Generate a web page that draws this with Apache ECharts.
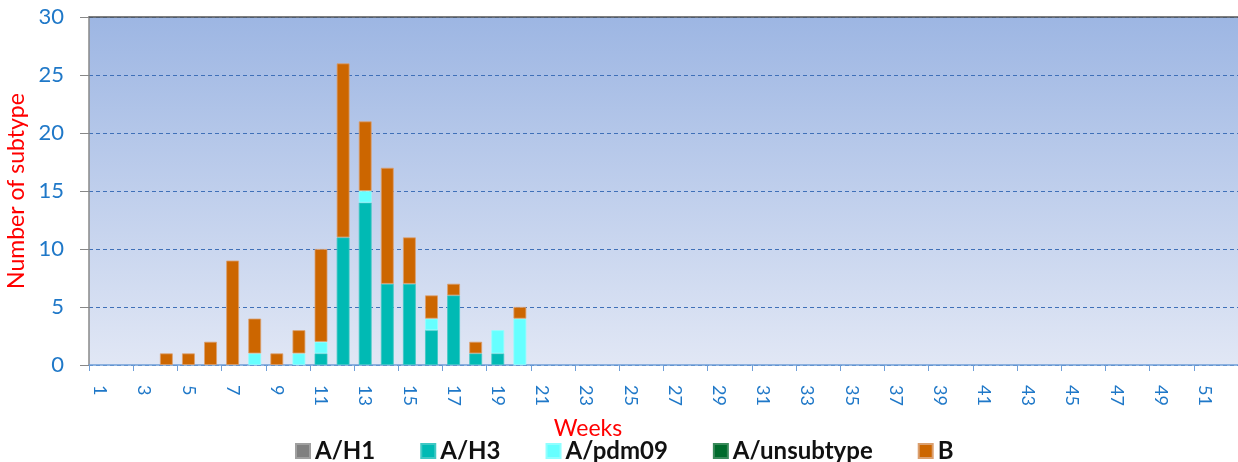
<!DOCTYPE html>
<html><head><meta charset="utf-8">
<script src="https://cdn.jsdelivr.net/npm/echarts@6/dist/echarts.min.js"></script>
<style>html,body{margin:0;padding:0;background:#fff}#c{width:1238px;height:462px}</style>
</head><body><div id="c"></div>
<script>
const weeks = Array.from({length: 52}, (_, i) => String(i + 1));
const seriesNames = ['A/H1', 'A/H3', 'A/pdm09', 'A/unsubtype', 'B'];
// values per week 1..52
const aH1 =        [0,0,0,0,0,0,0,0,0,0, 0, 0, 0,0,0,0,0,0,0,0, 0,0,0,0,0,0,0,0,0,0,0,0,0,0,0,0,0,0,0,0,0,0,0,0,0,0,0,0,0,0,0,0];
const aH3 =        [0,0,0,0,0,0,0,0,0,0, 1,11,14,7,7,3,6,1,1,0, 0,0,0,0,0,0,0,0,0,0,0,0,0,0,0,0,0,0,0,0,0,0,0,0,0,0,0,0,0,0,0,0];
const aPdm09 =     [0,0,0,0,0,0,0,1,0,1, 1, 0, 1,0,0,1,0,0,2,4, 0,0,0,0,0,0,0,0,0,0,0,0,0,0,0,0,0,0,0,0,0,0,0,0,0,0,0,0,0,0,0,0];
const aUnsub =     [0,0,0,0,0,0,0,0,0,0, 0, 0, 0,0,0,0,0,0,0,0, 0,0,0,0,0,0,0,0,0,0,0,0,0,0,0,0,0,0,0,0,0,0,0,0,0,0,0,0,0,0,0,0];
const bVals =      [0,0,0,1,1,2,9,3,1,2, 8,15, 6,10,4,2,1,1,0,1, 0,0,0,0,0,0,0,0,0,0,0,0,0,0,0,0,0,0,0,0,0,0,0,0,0,0,0,0,0,0,0,0];
const colors = ['#808080', '#00BAB4', '#66FFFF', '#006B2C', '#CC6600'];
const borders = ['#a0a0a0', '#40c8c4', '#90ffff', '#3a8a5a', '#dba070'];
const allData = [aH1, aH3, aPdm09, aUnsub, bVals];
const FONT = 'Lato';

const chart = echarts.init(document.getElementById('c'), null, {renderer: 'canvas'});
chart.setOption({
  animation: false,
  textStyle: {fontFamily: FONT},
  color: colors,
  grid: {
    left: 89, right: 0, top: 17, bottom: 97,
    containLabel: false,
    outerBoundsMode: 'none',
    show: true,
    borderWidth: 0,
    backgroundColor: new echarts.graphic.LinearGradient(0, 0, 0, 1, [
      {offset: 0, color: '#9db6e3'},
      {offset: 1, color: '#e1e7f5'}
    ])
  },
  legend: {
    bottom: -6, left: 290,
    itemWidth: 14, itemHeight: 14, itemGap: 45,
    icon: 'rect',
    textStyle: {fontFamily: FONT, fontSize: 24, fontWeight: 'bold', color: '#111'},
    data: seriesNames
  },
  xAxis: [{
    type: 'category',
    data: weeks,
    name: 'Weeks',
    nameLocation: 'middle',
    nameGap: 52,
    nameTextStyle: {color: '#ff0000', fontSize: 23, fontFamily: FONT, padding: [0, 151, 0, 0]},
    axisLine: {lineStyle: {color: '#6f9fd8', width: 1.5}},
    axisTick: {show: true, length: 6, lineStyle: {color: '#6f9fd8'}},
    axisLabel: {interval: 1, rotate: -90, color: '#1f78c8', fontSize: 18, fontFamily: FONT, margin: 20}
  }, {
    type: 'category',
    position: 'top',
    data: weeks,
    axisLine: {show: true, lineStyle: {color: '#555', width: 1.5}},
    axisTick: {show: false},
    axisLabel: {show: false}
  }],
  yAxis: {
    type: 'value',
    min: 0, max: 30, interval: 5,
    name: 'Number of subtype',
    nameLocation: 'middle',
    nameGap: 58,
    nameTextStyle: {color: '#ff0000', fontSize: 23, fontFamily: FONT},
    axisLine: {show: true, lineStyle: {color: '#888', width: 1.5}},
    axisTick: {show: true, length: 9, lineStyle: {color: '#888'}},
    axisLabel: {color: '#1f78c8', fontSize: 22, fontFamily: FONT, margin: 25},
    splitLine: {lineStyle: {color: '#3f70b8', type: [4, 3], width: 1}}
  },
  series: seriesNames.map((n, i) => ({
    name: n,
    type: 'bar',
    stack: 'total',
    barWidth: '58%',
    data: allData[i].map(v => (v === 0 ? '-' : v)),
    itemStyle: {color: colors[i], borderColor: borders[i], borderWidth: 0.8}
  }))
});
</script></body></html>
